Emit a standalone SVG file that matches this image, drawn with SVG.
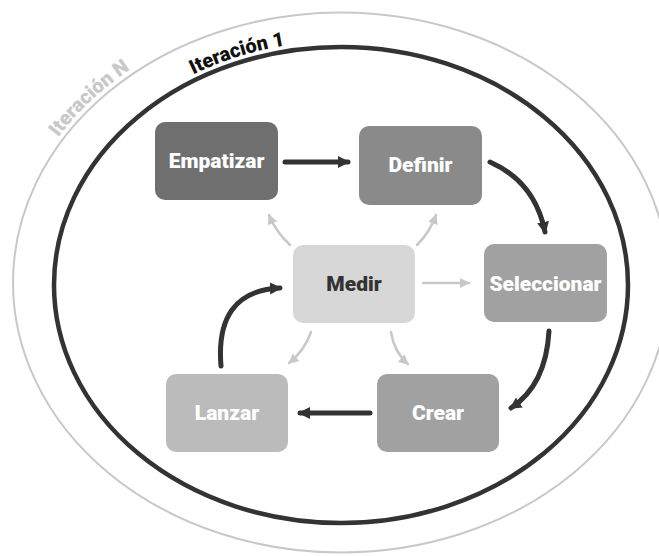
<svg xmlns="http://www.w3.org/2000/svg" width="659" height="556" viewBox="0 0 659 556">
<style>
.lbl{font-family:Roboto,"Liberation Sans",sans-serif;font-weight:900;font-size:21px;text-anchor:middle;fill:#ffffff}
.ring{font-family:Roboto,"Liberation Sans",sans-serif;font-weight:900;font-size:20px;text-anchor:middle}
.dk{fill:none;stroke:#333333;stroke-width:5;stroke-linecap:round}
.lt{fill:none;stroke:#c8c8c8;stroke-width:2.5;stroke-linecap:round}
</style>
<defs>
<marker id="ah" markerUnits="userSpaceOnUse" markerWidth="14" markerHeight="14" viewBox="0 0 14 14" refX="10" refY="7" orient="auto">
<path d="M0,1 L12,7 L0,13 Z" fill="#333333"/>
</marker>
<marker id="al" markerUnits="userSpaceOnUse" markerWidth="12" markerHeight="12" viewBox="0 0 12 12" refX="9" refY="6" orient="auto">
<path d="M0,1 L10,6 L0,11 Z" fill="#c8c8c8"/>
</marker>
<path id="p1" d="M48,285 A293,244 0 0 1 634,285"/>
<path id="pN" d="M8,282.5 A333,275 0 0 1 674,282.5"/>
</defs>
<g id="rings">
<ellipse cx="341" cy="282.5" rx="328" ry="270" fill="none" stroke="#c8c8c8" stroke-width="2"/>
<ellipse cx="341" cy="285" rx="287" ry="238" fill="none" stroke="#333333" stroke-width="4.5"/>
<text class="ring" fill="#c8c8c8"><textPath href="#pN" startOffset="206">Iteración N</textPath></text>
<text class="ring" fill="#111111"><textPath href="#p1" startOffset="318">Iteración 1</textPath></text>
</g>
<g id="connectors">
<path class="dk" d="M285,162 L348,162" marker-end="url(#ah)"/>
<path class="dk" d="M490,162 Q535,182 545,232" marker-end="url(#ah)"/>
<path class="dk" d="M549,331 Q546,385 511,408" marker-end="url(#ah)"/>
<path class="dk" d="M370,413 L300,413" marker-end="url(#ah)"/>
<path class="dk" d="M221,366 C217,318 235,290 280,288" marker-end="url(#ah)"/>
<path class="lt" d="M290,245 Q276,232 269,215" marker-end="url(#al)"/>
<path class="lt" d="M417,245 Q430,232 436,215" marker-end="url(#al)"/>
<path class="lt" d="M423,283 L469,283" marker-end="url(#al)"/>
<path class="lt" d="M311,332 Q305,350 289,363" marker-end="url(#al)"/>
<path class="lt" d="M391,332 Q394,352 408,364" marker-end="url(#al)"/>
</g>
<g id="empatizar">
<rect x="155" y="122" width="123" height="78" rx="10" fill="#6f6f6f"/>
<text class="lbl" x="216.5" y="168">Empatizar</text>
</g>
<g id="definir">
<rect x="359" y="126" width="123" height="79" rx="10" fill="#8a8a8a"/>
<text class="lbl" x="420.5" y="172">Definir</text>
</g>
<g id="medir">
<rect x="293" y="245" width="122" height="78" rx="10" fill="#d7d7d7"/>
<text class="lbl" x="354" y="291" style="fill:#333333">Medir</text>
</g>
<g id="seleccionar">
<rect x="484" y="244" width="123" height="78" rx="10" fill="#a1a1a1"/>
<text class="lbl" x="545.5" y="291">Seleccionar</text>
</g>
<g id="lanzar">
<rect x="166" y="374" width="122" height="78" rx="10" fill="#bbbbbb"/>
<text class="lbl" x="227" y="420">Lanzar</text>
</g>
<g id="crear">
<rect x="377" y="374" width="122" height="78" rx="10" fill="#a1a1a1"/>
<text class="lbl" x="438" y="420">Crear</text>
</g>
</svg>
